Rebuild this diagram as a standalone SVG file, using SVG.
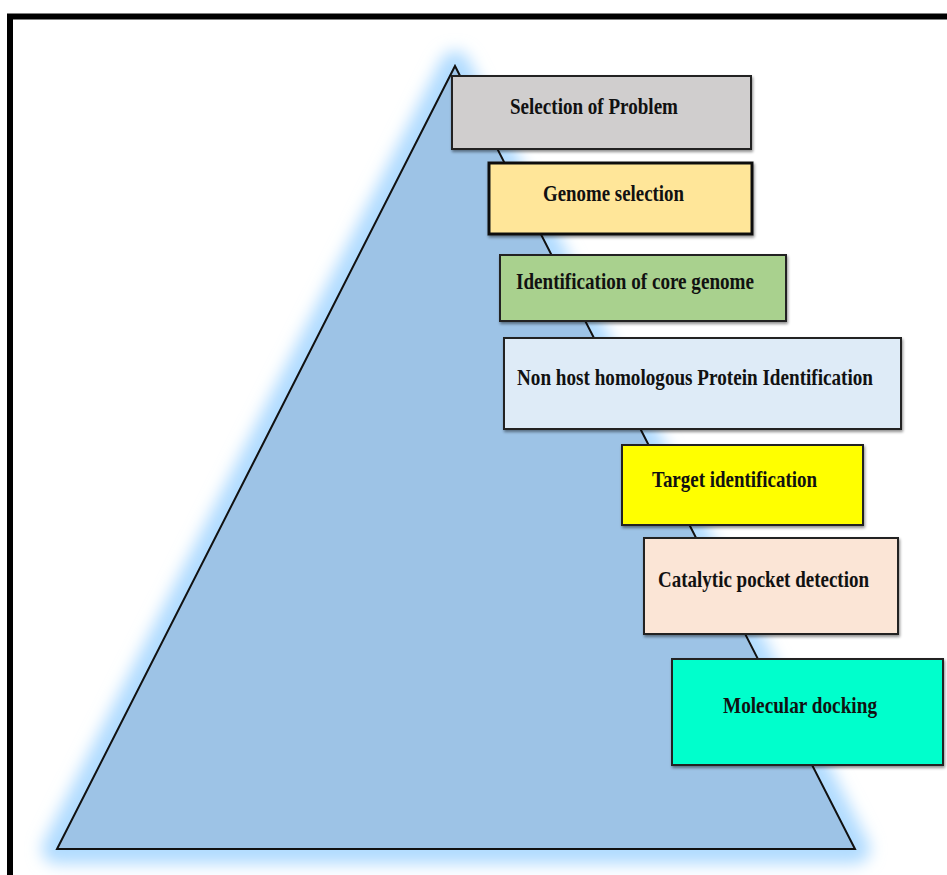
<svg xmlns="http://www.w3.org/2000/svg" width="947" height="875" viewBox="0 0 947 875">
<defs>
<filter id="glow" x="-20%" y="-20%" width="140%" height="140%">
<feGaussianBlur stdDeviation="8"/>
</filter>
<filter id="shadow" x="-10%" y="-10%" width="120%" height="130%">
<feGaussianBlur in="SourceAlpha" stdDeviation="1.5"/>
<feOffset dx="1" dy="2" result="b"/>
<feComponentTransfer><feFuncA type="linear" slope="0.45"/></feComponentTransfer>
<feMerge><feMergeNode/><feMergeNode in="SourceGraphic"/></feMerge>
</filter>
<style>
.box{stroke:#222;stroke-width:2;filter:url(#shadow)}
.lbl{font-family:"Liberation Serif","Times New Roman",serif;font-weight:bold;font-size:24px;fill:#111}
</style>
</defs>
<rect width="947" height="875" fill="#fff"/>
<path d="M10,875 V16.5 H947" fill="none" stroke="#000" stroke-width="6"/>
<g id="pyramid">
<polygon points="455,66 57,849 855,849" fill="none" stroke="#b0dbff" stroke-width="30" stroke-linejoin="round" filter="url(#glow)"/>
<polygon points="455,66 57,849 855,849" fill="#9DC3E6" stroke="#111" stroke-width="2"/>
</g>
<g id="connectors"></g>
<g id="n1"><rect class="box" x="452" y="76" width="299" height="73" fill="#D0CECE"/><text class="lbl" x="510" y="114" textLength="168" lengthAdjust="spacingAndGlyphs">Selection of Problem</text></g>
<g id="n2"><rect class="box" x="489" y="163" width="263" height="71" fill="#FFE699" style="stroke:#111;stroke-width:3"/><text class="lbl" x="543" y="201" textLength="141" lengthAdjust="spacingAndGlyphs">Genome selection</text></g>
<g id="n3"><rect class="box" x="500" y="255" width="286" height="66" fill="#A9D18E"/><text class="lbl" x="516" y="289" textLength="238" lengthAdjust="spacingAndGlyphs">Identification of core genome</text></g>
<g id="n4"><rect class="box" x="504" y="338" width="397" height="91" fill="#DEEBF7"/><text class="lbl" transform="translate(517 385) scale(0.75 1)" x="0" y="0" textLength="474.7" lengthAdjust="spacingAndGlyphs">Non host homologous Protein Identification</text></g>
<g id="n5"><rect class="box" x="622" y="445" width="241" height="80" fill="#FFFF00"/><text class="lbl" x="652" y="487" textLength="165" lengthAdjust="spacingAndGlyphs">Target identification</text></g>
<g id="n6"><rect class="box" x="644" y="538" width="254" height="96" fill="#FBE5D6"/><text class="lbl" x="658" y="587" textLength="211" lengthAdjust="spacingAndGlyphs">Catalytic pocket detection</text></g>
<g id="n7"><rect class="box" x="672" y="659" width="271" height="106" fill="#00FFCC"/><text class="lbl" x="723" y="713" textLength="154" lengthAdjust="spacingAndGlyphs">Molecular docking</text></g>
</svg>
